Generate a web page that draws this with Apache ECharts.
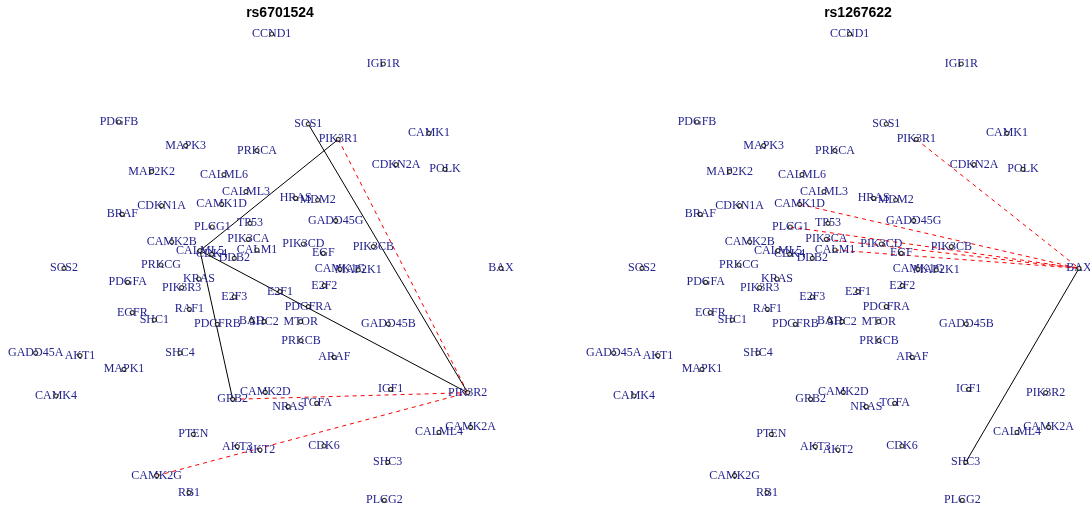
<!DOCTYPE html>
<html lang="en">
<head>
    <meta charset="UTF-8">
    <title>SNP networks</title>
    <script src="https://cdn.jsdelivr.net/npm/echarts@6/dist/echarts.min.js"></script>
    <style>
        body { margin: 0; background: #fff; }
        #main { width: 1090px; height: 510px; }
    </style>
</head>
<body>
    <div id="main"></div>
    <script>
        // shared layout for both panels
        var genes = ['CCND1', 'IGF1R', 'PDGFB', 'SOS1', 'CAMK1', 'PIK3R1', 'MAPK3', 'PRKCA', 'CDKN2A', 'POLK',
            'MAP2K2', 'CALML6', 'CALML3', 'HRAS', 'MDM2', 'CAMK1D', 'CDKN1A', 'BRAF', 'GADD45G', 'TP53',
            'PLCG1', 'PIK3CA', 'CAMK2B', 'PIK3CD', 'PIK3CB', 'CALM1', 'CALML5', 'EGF', 'CDK4', 'DDB2',
            'PRKCG', 'SOS2', 'BAX', 'CAMK1G', 'MAP2K1', 'KRAS', 'PDGFA', 'E2F2', 'PIK3R3', 'E2F1',
            'E2F3', 'PDGFRA', 'RAF1', 'EGFR', 'SHC1', 'BAD', 'SHC2', 'MTOR', 'GADD45B', 'PDGFRB',
            'PRKCB', 'GADD45A', 'SHC4', 'AKT1', 'ARAF', 'MAPK1', 'IGF1', 'CAMK2D', 'PIK3R2', 'CAMK4',
            'GRB2', 'TGFA', 'NRAS', 'CAMK2A', 'CALML4', 'PTEN', 'CDK6', 'AKT3', 'AKT2', 'SHC3',
            'CAMK2G', 'RB1', 'PLCG2'];
        var layoutX = [271.7, 383.3, 119, 308.3, 429, 338.3, 185.7, 257, 396, 445,
            151.7, 224, 246, 295.7, 317.7, 221.7, 161.7, 122.3, 335.7, 250,
            212.3, 248.3, 171.7, 303.3, 373.3, 257, 200, 323.3, 211.7, 234.3,
            161, 64, 501, 340, 358.3, 199, 127.7, 324.3, 181.7, 280,
            234.3, 308.3, 189.3, 132.3, 154.3, 251.7, 264, 300.7, 388.3, 217.3,
            301, 35.7, 180, 80, 334.3, 124, 390.7, 265.3, 467.7, 56,
            232.7, 316.7, 288.3, 470.7, 439, 193.3, 324, 237.3, 260, 387.7,
            156.7, 189, 384.3];
        var layoutY = [34, 64, 122, 124, 133.3, 139.3, 145.7, 150.7, 164.7, 169.3,
            171.7, 174.7, 191.7, 198.3, 200, 204.3, 205.7, 214.3, 220.7, 223.3,
            227, 239.3, 242, 244, 246.7, 250, 250.7, 253.3, 254.3, 258.3,
            265, 268.3, 268.3, 269.3, 270, 279, 282.3, 285.7, 287.7, 291.7,
            297, 306.7, 309.3, 312.7, 320, 320.7, 321.7, 321.7, 324, 324.3,
            340.7, 353, 353, 355.7, 357.3, 369.3, 389.3, 392.3, 392.7, 396,
            399.3, 403.3, 406.7, 427.3, 432.3, 434.3, 446, 446.7, 450, 462.3,
            475.7, 492.7, 500.3];

        var snps = ['rs6701524', 'rs1267622'];
        // [source, target, kind] ; kind 'pos' = solid black, 'neg' = dashed red
        var edges1 = [
            ['SOS1', 'PIK3R2', 'pos'],
            ['PIK3R1', 'CALML5', 'pos'],
            ['CALML5', 'GRB2', 'pos'],
            ['CALML5', 'PIK3R2', 'pos'],
            ['PIK3R1', 'PIK3R2', 'neg'],
            ['GRB2', 'PIK3R2', 'neg'],
            ['CAMK2G', 'PIK3R2', 'neg']
        ];
        var edges2 = [
            ['SHC3', 'BAX', 'pos'],
            ['PIK3R1', 'BAX', 'neg'],
            ['CAMK1D', 'BAX', 'neg'],
            ['PLCG1', 'BAX', 'neg'],
            ['PIK3CA', 'BAX', 'neg'],
            ['CALM1', 'BAX', 'neg']
        ];

        var panelLeft = [0, 578];
        var panelCenter = [275, 853];

        function nodeData() {
            var d = [];
            for (var i = 0; i < genes.length; i++) {
                d.push({ name: genes[i], value: [layoutX[i], layoutY[i]] });
            }
            return d;
        }
        function linkData(edges) {
            return edges.map(function (e) {
                return {
                    source: e[0], target: e[1],
                    lineStyle: e[2] == 'pos'
                        ? { color: '#000000', width: 1, type: 'solid', opacity: 1 }
                        : { color: '#ff0000', width: 1, type: [4, 4], opacity: 1 }
                };
            });
        }

        var grids = [], xAxes = [], yAxes = [], titles = [], series = [];
        [edges1, edges2].forEach(function (edges, k) {
            grids.push({ left: panelLeft[k], top: 0, width: 512, height: 510 });
            xAxes.push({ type: 'value', gridIndex: k, min: 0, max: 512, show: false });
            yAxes.push({ type: 'value', gridIndex: k, min: 0, max: 510, inverse: true, show: false });
            titles.push({
                text: snps[k], left: panelCenter[k], top: 1, textAlign: 'center',
                textStyle: { fontFamily: 'Liberation Sans', fontSize: 14, fontWeight: 'bold', color: '#000' }
            });
            // edges + labels
            series.push({
                type: 'graph',
                coordinateSystem: 'cartesian2d',
                xAxisIndex: k,
                yAxisIndex: k,
                z: 2,
                symbol: 'circle',
                symbolSize: 1,
                itemStyle: { color: 'rgba(0,0,0,0)' },
                label: {
                    show: true,
                    position: 'inside',
                    formatter: '{b}',
                    color: '#23238f',
                    fontFamily: 'Liberation Serif',
                    fontSize: 12
                },
                emphasis: { disabled: true },
                data: nodeData(),
                links: linkData(edges)
            });
            // vertex dots drawn over the labels
            series.push({
                type: 'scatter',
                xAxisIndex: k,
                yAxisIndex: k,
                z: 10,
                symbol: 'circle',
                symbolSize: 4,
                itemStyle: { color: '#ffffff', borderColor: '#000000', borderWidth: 1.2 },
                emphasis: { disabled: true },
                data: nodeData()
            });
        });

        var chart = echarts.init(document.getElementById('main'));
        chart.setOption({
            animation: false,
            backgroundColor: '#ffffff',
            title: titles,
            grid: grids,
            xAxis: xAxes,
            yAxis: yAxes,
            series: series
        });
    </script>
</body>
</html>
